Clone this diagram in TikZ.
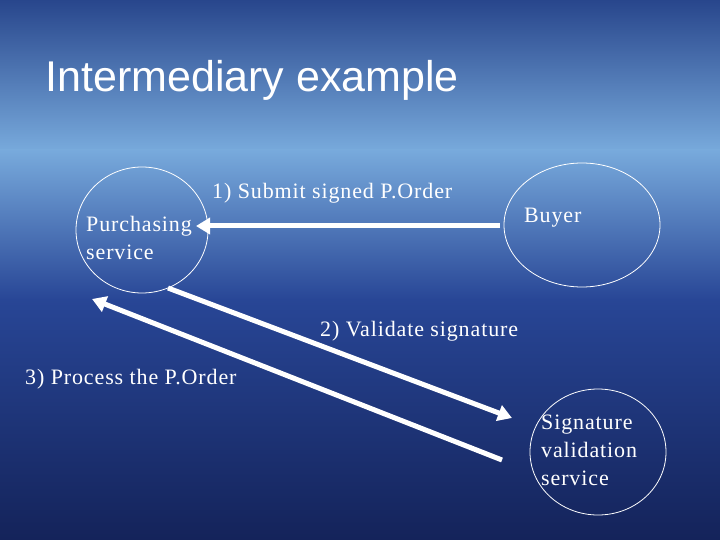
\documentclass[tikz,border=0pt]{standalone}
\usepackage{fontspec}
\setmainfont{Liberation Serif}[LetterSpace=4]
\setsansfont{Liberation Sans}
\usetikzlibrary{arrows.meta,shapes.geometric}
\definecolor{skytop}{RGB}{40,70,140}
\definecolor{horizon}{RGB}{120,170,220}
\definecolor{seamid}{RGB}{40,70,150}
\definecolor{seabot}{RGB}{20,35,90}
\begin{document}
\begin{tikzpicture}[x=1pt,y=-1pt,
  ell/.style={draw=white,line width=0.8pt,ellipse},
  lbl/.style={text=white,font=\fontsize{22}{28}\selectfont,inner sep=0pt},
  arr/.style={white,line width=5pt,-{Triangle[length=14pt,width=16pt]}}]
\useasboundingbox (0,0) rectangle (720,540);
\shade[top color=skytop, bottom color=horizon] (0,0) rectangle (720,151);
\shade[top color=horizon, bottom color=seamid] (0,150) rectangle (720,300);
\shade[top color=seamid, bottom color=seabot] (0,299) rectangle (720,540);
\node[anchor=west,text=white,font=\sffamily\fontsize{43}{45}\selectfont] (title) at (42,80) {Intermediary example};
\node[ell,minimum width=132,minimum height=126] (ps) at (142,230) {};
\node[ell,minimum width=156,minimum height=124] (by) at (582,225) {};
\node[ell,minimum width=136,minimum height=126] (sv) at (598,452) {};
\node[lbl,anchor=west,align=left] (pst) at (86,238) {Purchasing\\service};
\node[lbl,anchor=west] (byt) at (524,218) {Buyer};
\node[lbl,anchor=west,align=left] (svt) at (541,450) {Signature\\validation\\service};
\coordinate (a1s) at (500,226); \coordinate (a1e) at (196,226);
\coordinate (a2s) at (168,288); \coordinate (a2e) at (512,418);
\coordinate (a3s) at (502,460); \coordinate (a3e) at (92,299);
\draw[arr] (a1s) -- (a1e);
\draw[arr] (a2s) -- (a2e);
\draw[arr] (a3s) -- (a3e);
\node[lbl,anchor=west] (l1) at (212,193) {1) Submit signed P.Order};
\node[lbl,anchor=west] (l2) at (320,331) {2) Validate signature};
\node[lbl,anchor=west] (l3) at (25,379) {3) Process the P.Order};
\end{tikzpicture}
\end{document}
